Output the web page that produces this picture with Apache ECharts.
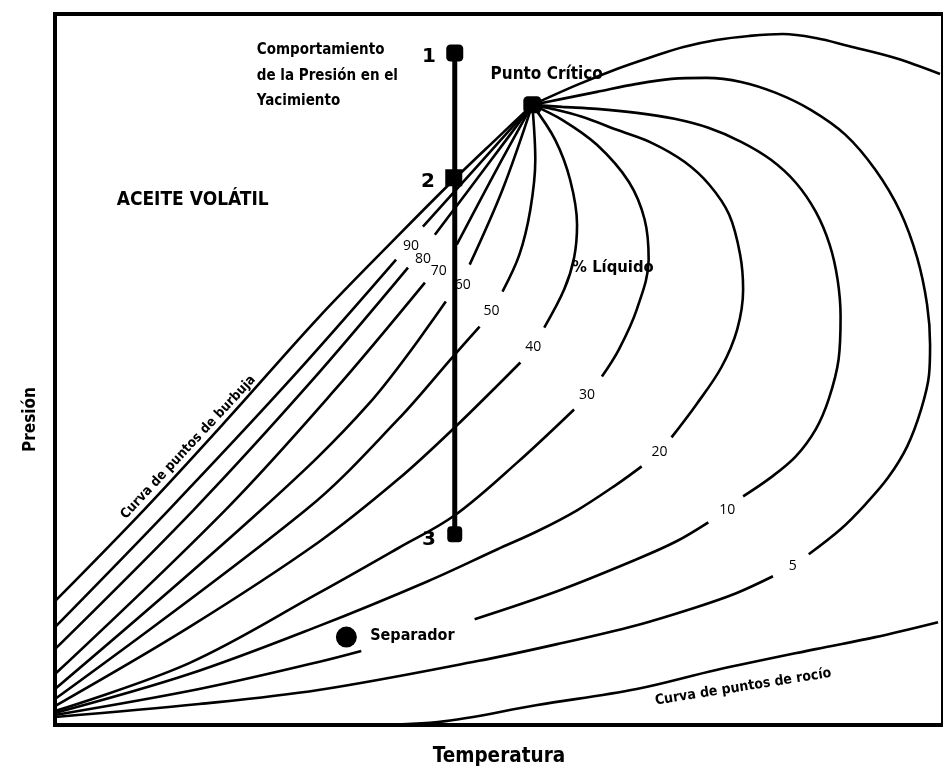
<!DOCTYPE html>
<html><head><meta charset="utf-8">
<script src="https://cdn.jsdelivr.net/npm/echarts@6/dist/echarts.min.js"></script>
<style>html,body{margin:0;padding:0;background:#fff}#c{width:943px;height:772px}</style>
</head><body><div id="c"></div>
<script>
// Schematic phase diagram (Temperature, Pressure in arbitrary units)
const bubbleCurve = [[0,124],[90,216],[175,308],[265,408],[345,490],[401,546],[445,588],[480,621]];
const liq90 = [[0,98],[115,216],[235,344],[343,466],null,[370,499],[425,560],[480,621]];
const liq80 = [[0,76],[140,216],[255,341],[355,458],null,[382,491],[435,561],[480,621]];
const liq70 = [[0,51],[172,216],[280,334],[372,443],null,[404,481],[445,558],[480,621]];
const liq60 = [[0,36],[208,216],[315,321],[393,424],null,[417,461],[450,536],[480,621]];
const liq50 = [[0,26],[253,216],[345,306],[402,371],[427,399],null,[450,434],[467,471],[478,516],[483,566],[480,621]];
const liq40 = [[0,19],[135,98],[265,183],[345,246],[402,298],[468,363],null,[492,398],[512,436],[522,468],[525,501],[518,546],[503,586],[480,621]];
const liq30 = [[0,14],[135,62],[265,132],[345,177],[402,210],[465,263],[522,316],null,[550,349],[567,376],[585,416],[597,466],[593,506],[577,544],[545,581],[510,606],[480,621]];
const liq20 = [[0,12],[135,51],[265,99],[375,144],[445,176],[485,194],[525,215],[565,241],[590,259],null,[620,288],[645,321],[670,358],[686,396],[692,436],[689,471],[678,511],[658,541],[633,564],[600,583],[565,596],[530,609],[500,617],[480,621]];
const liq10 = [[0,10],[145,36],[265,63],[308,74],null,[422,106],[505,134],[585,166],[625,184],[657,203],null,[692,229],[720,248],[745,269],[765,296],[778,326],[788,366],[790,409],[787,446],[779,481],[765,514],[745,543],[720,566],[690,584],[657,598],[623,607],[585,613],[545,617],[510,619],[480,621]];
const liq5 = [[0,8],[145,21],[265,35],[425,64],[505,81],[585,100],[645,118],[685,132],[722,149],null,[758,171],[790,196],[815,221],[838,248],[857,279],[871,316],[879,351],[880,381],[877,421],[867,468],[850,514],[825,556],[795,591],[760,616],[725,633],[690,644],[655,648],[620,647],[585,642],[545,634],[510,627],[480,621]];
const dewUpper = [[480,621],[525,641],[565,657],[600,669],[632,679],[665,686],[698,690],[732,692],[765,688],[798,680],[845,668],[890,652]];
const dewLower = [[300,0],[385,3],[485,20],[585,36],[665,55],[765,76],[825,88],[888,103]];
const reservoirPath = [[402,673],[402,191]];
const reservoirPoints = [[402,673],[401,548],[402,191]];
const reservoirNames = ['1','2','3'];
const criticalPoint = [480,621];
const separatorPoint = [293,88];
const qualityNames = ['90','80','70','60','50','40','30','20','10','5'];
const qualityLabelAt = [[358,480],[370,467],[386,455],[410,441],[439,415],[481,379],[535,330],[608,273],[676,215],[742,159]];

const FONT = '"Liberation Sans Narrow","DejaVu Sans Condensed","Roboto Condensed",Roboto,sans-serif';
const NUMFONT = '"Open Sans","Noto Sans",sans-serif';

function segments(arr){
  const out=[];let cur=[];
  arr.forEach(p=>{ if(p===null){ if(cur.length) out.push(cur); cur=[]; } else cur.push(p); });
  if(cur.length) out.push(cur);
  return out;
}
const curves = [bubbleCurve, liq90, liq80, liq70, liq60, liq50, liq40, liq30, liq20, liq10, liq5, dewUpper, dewLower];
const series = [];
curves.forEach(c=>{
  segments(c).forEach(seg=>{
    series.push({type:'line', data:seg, smooth:0.35, symbol:'none', silent:true,
      lineStyle:{color:'#000', width:2.6}, z:2});
  });
});
series.push({type:'line', data:reservoirPath, symbol:'none', lineStyle:{color:'#000', width:5}, z:3});
series.push({type:'scatter', z:4, silent:true, data:[
  {value:reservoirPoints[0], symbol:'roundRect', symbolSize:[17,17]},
  {value:reservoirPoints[1], symbol:'rect', symbolSize:[17,17]},
  {value:reservoirPoints[2], symbol:'roundRect', symbolSize:[15,16]},
  {value:criticalPoint, symbol:'roundRect', symbolSize:[18,17]},
  {value:separatorPoint, symbol:'circle', symbolSize:21}
], itemStyle:{color:'#000', opacity:1}});

function lab(value, text, o){
  return {value:value, label:Object.assign({show:true, formatter:text, color:'#000', fontFamily:FONT, fontWeight:'bold', fontSize:15, position:'right', distance:0}, o||{})};
}
const textData = [];
qualityNames.forEach((n,i)=>textData.push(lab(qualityLabelAt[i], n, {fontFamily:NUMFONT, fontWeight:'normal', fontSize:14, position:'inside'})));
reservoirNames.forEach((n,i)=>{
  const p = reservoirPoints[i];
  textData.push(lab([p[0]-26, p[1]+(i===2?-6:-4)], n, {fontFamily:'"DejaVu Sans",sans-serif', fontSize:20, position:'inside'}));
});
textData.push(lab([203,650], 'Comportamiento\nde la Presión en el\nYacimiento', {lineHeight:25.5, align:'left'}));
textData.push(lab([438,651], 'Punto Crítico', {fontSize:17}));
textData.push(lab([62,526], 'ACEITE VOLÁTIL', {fontSize:19}));
textData.push(lab([520,458], '% Líquido', {fontSize:16.5}));
textData.push(lab([317,89], 'Separador', {fontSize:16}));
textData.push(lab([134,278], 'Curva de puntos de burbuja', {fontSize:13.5, position:'inside', rotate:47}));
textData.push(lab([692,38], 'Curva de puntos de rocío', {fontSize:14, position:'inside', rotate:9}));
series.push({type:'scatter', symbolSize:0, silent:true, z:5, data:textData, itemStyle:{color:'#000', opacity:1}});

const chart = echarts.init(document.getElementById('c'), null, {renderer:'canvas'});
chart.setOption({
  animation:false,
  backgroundColor:'#fff',
  grid:{left:55, top:14, width:893, height:712, show:true, borderColor:'#000', borderWidth:4, backgroundColor:'transparent'},
  xAxis:{type:'value', min:0, max:893, name:'Temperatura', nameLocation:'middle', nameGap:21,
    nameTextStyle:{fontFamily:FONT, fontWeight:'bold', fontSize:20.5, color:'#000'},
    axisLine:{show:false}, axisTick:{show:false}, axisLabel:{show:false}, splitLine:{show:false}},
  yAxis:{type:'value', min:0, max:712, name:'Presión', nameLocation:'middle', nameGap:16,
    nameTextStyle:{fontFamily:FONT, fontWeight:'bold', fontSize:17, color:'#000', padding:[0,100,0,0]},
    axisLine:{show:false}, axisTick:{show:false}, axisLabel:{show:false}, splitLine:{show:false}},
  series:series
});
</script></body></html>
